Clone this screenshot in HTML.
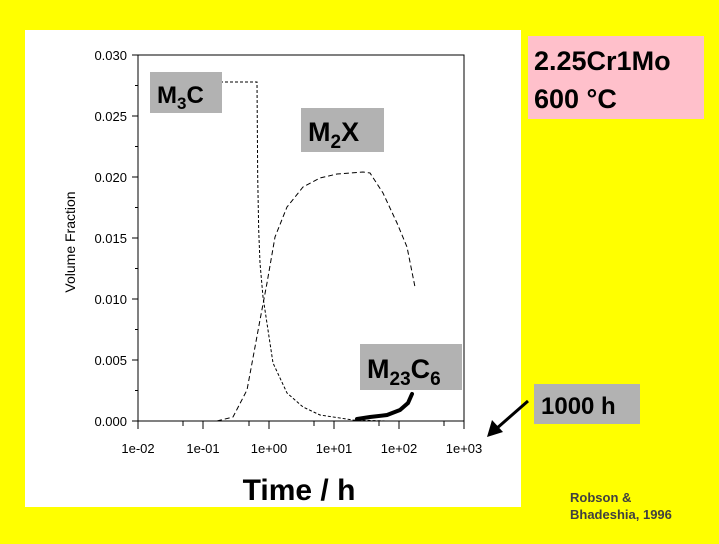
<!DOCTYPE html>
<html><head><meta charset="utf-8"><style>
body{margin:0;width:719px;height:539px;background:#ffff00;overflow:hidden;font-family:"Liberation Sans",sans-serif}
</style></head><body>
<svg width="719" height="539" xmlns="http://www.w3.org/2000/svg" font-family="Liberation Sans, sans-serif">
<rect width="719" height="539" fill="#ffff00"/>
<rect x="25" y="30" width="496" height="477" fill="#fff"/>
<rect x="138" y="55" width="326" height="366" fill="none" stroke="#000" stroke-width="1"/>
<g stroke="#000" stroke-width="1">
<line x1="132" y1="55" x2="138" y2="55"/><line x1="132" y1="116" x2="138" y2="116"/><line x1="132" y1="177" x2="138" y2="177"/><line x1="132" y1="238" x2="138" y2="238"/><line x1="132" y1="299" x2="138" y2="299"/><line x1="132" y1="360" x2="138" y2="360"/><line x1="132" y1="421" x2="138" y2="421"/>
<line x1="135" y1="85.5" x2="138" y2="85.5"/><line x1="135" y1="146.5" x2="138" y2="146.5"/><line x1="135" y1="207.5" x2="138" y2="207.5"/><line x1="135" y1="268.5" x2="138" y2="268.5"/><line x1="135" y1="329.5" x2="138" y2="329.5"/><line x1="135" y1="390.5" x2="138" y2="390.5"/>
<line x1="138" y1="421" x2="138" y2="429"/><line x1="203" y1="421" x2="203" y2="429"/><line x1="269" y1="421" x2="269" y2="429"/><line x1="334" y1="421" x2="334" y2="429"/><line x1="399" y1="421" x2="399" y2="429"/><line x1="464" y1="421" x2="464" y2="429"/>
<line x1="183" y1="421" x2="183" y2="426"/><line x1="249" y1="421" x2="249" y2="426"/><line x1="314" y1="421" x2="314" y2="426"/><line x1="379" y1="421" x2="379" y2="426"/><line x1="444" y1="421" x2="444" y2="426"/>
</g>
<g font-size="13" fill="#000" text-anchor="end">
<text x="127" y="60">0.030</text><text x="127" y="121">0.025</text><text x="127" y="182">0.020</text><text x="127" y="243">0.015</text><text x="127" y="304">0.010</text><text x="127" y="365">0.005</text><text x="127" y="426">0.000</text>
</g>
<g font-size="13" fill="#000" text-anchor="middle">
<text x="138" y="453">1e-02</text><text x="203" y="453">1e-01</text><text x="269" y="453">1e+00</text><text x="334" y="453">1e+01</text><text x="399" y="453">1e+02</text><text x="464" y="453">1e+03</text>
</g>
<text transform="translate(75,242) rotate(-90)" font-size="14" text-anchor="middle">Volume Fraction</text>
<text x="299" y="500" font-size="30" font-weight="bold" text-anchor="middle">Time / h</text>
<g fill="none" stroke="#000" stroke-width="1" stroke-dasharray="3,2">
<polyline points="150,82 257,82 257.7,177 258.7,230 260,263 263,297 268,330 273,363 287,393 303,407 320,415 353,420 387,421"/>
<polyline stroke-dasharray="5,3" points="217,421 233,417 247,390 255,347 260,320 267,283 275,237 287,207 303,187 320,178 337,174 363,172 370,173 383,193 397,223 407,247 415,287"/>
</g>
<polyline fill="none" stroke="#000" stroke-width="4" stroke-linecap="round" points="357,419 370,417 387,415 400,410 408,403 412,394"/>
<rect x="150" y="72" width="72" height="41" fill="#b2b2b2"/>
<text x="157" y="103" font-size="24" font-weight="bold">M<tspan font-size="17" dy="6">3</tspan><tspan dy="-6">C</tspan></text>
<rect x="301" y="108" width="83" height="44" fill="#b2b2b2"/>
<text x="308" y="141" font-size="27" font-weight="bold">M<tspan font-size="19" dy="7">2</tspan><tspan dy="-7">X</tspan></text>
<rect x="360" y="344" width="102" height="46" fill="#b2b2b2"/>
<text x="367" y="378" font-size="27" font-weight="bold">M<tspan font-size="19" dy="7">23</tspan><tspan dy="-7">C</tspan><tspan font-size="19" dy="7">6</tspan></text>
<rect x="528" y="36" width="176" height="83" fill="#ffc0cb"/>
<text x="534" y="70" font-size="27" font-weight="bold">2.25Cr1Mo</text>
<text x="534" y="108" font-size="27" font-weight="bold">600 °C</text>
<rect x="534" y="384" width="106" height="40" fill="#b2b2b2"/>
<text x="541" y="414" font-size="24" font-weight="bold">1000 h</text>
<line x1="528" y1="401" x2="496" y2="429" stroke="#000" stroke-width="3"/>
<polygon points="487,437 492,420 503,432" fill="#000"/>
<text x="570" y="502" font-size="13" font-weight="bold" fill="#404040">Robson &amp;</text>
<text x="570" y="519" font-size="13" font-weight="bold" fill="#404040">Bhadeshia, 1996</text>
</svg>
</body></html>
